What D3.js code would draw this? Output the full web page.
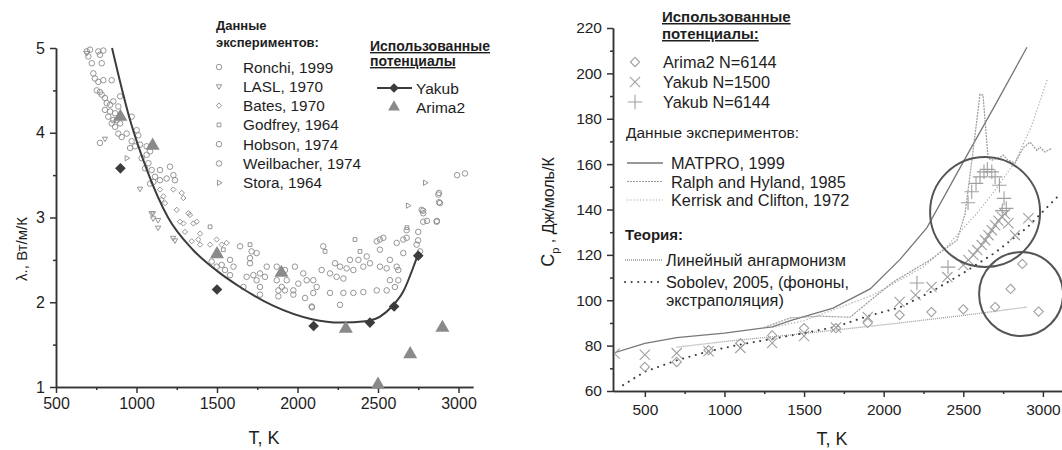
<!DOCTYPE html>
<html>
<head>
<meta charset="utf-8">
<script src="https://cdn.jsdelivr.net/npm/d3@7"></script>
<style>
body { margin: 0; background: #fff; }
svg { font-family: "Liberation Sans", Arial, sans-serif; }
</style>
</head>
<body>
<svg id="chart" width="1062" height="450"></svg>
<script>
// ---- left panel: thermal conductivity, [T, lambda] ----
const ronchi = [[691,4.96],[711,4.98],[763,4.96],[794,4.97],[701,4.90],[722,4.82],[773,4.92],[784,4.82],[732,4.70],[742,4.64],
  [763,4.60],[794,4.62],[846,4.62],[753,4.50],[773,4.48],[784,4.45],[804,4.41],[815,4.35],[836,4.33],[856,4.37],[804,4.27],
  [836,4.25],[867,4.23],[887,4.31],[898,4.43],[825,4.19],[856,4.15],[877,4.15],[846,4.11],[867,4.07],[898,4.11],[970,4.19],
  [887,3.99],[908,3.95],[939,3.99],[1001,4.03],[1011,3.97],[970,3.90],[991,3.84],[960,3.82],[1022,3.86],[1063,3.84],[1084,3.78],
  [1063,3.74],[1032,3.70],[1074,3.64],[1053,3.58],[1094,3.56],[1146,3.56],[1208,3.60],[1115,3.48],[1146,3.44],[1187,3.46],
  [1229,3.50],[1239,3.44],[1084,3.40],[1105,3.42],[773,3.88],
  [2678,2.85],[2678,2.76],[2750,2.83],[2781,2.95],[2864,2.95],[2781,3.05],[2771,3.09],[2885,3.17],[2875,3.27],[2740,2.68],
  [2761,2.60],[2991,3.50],[3040,3.52],[2879,3.29],[2879,3.18],[2780,3.08],[2804,2.96],[2866,2.96],[2749,2.73]];
const lasl = [[804,3.93],[1022,3.34],[1094,3.05],[1103,3.05],[1134,2.88],[1227,2.76],[1103,2.99],[1134,2.97],[1239,2.73],[691,4.94]];
const bates = [[1146,3.33],[1167,3.25],[1177,3.17],[1156,3.21],[1229,3.33],[1281,3.29],[1291,3.23],[1250,3.09],[1322,3.05],
  [1332,3.03],[1270,2.95],[1291,2.93],[1353,2.93],[1374,2.95],[1301,2.83],[1395,2.81],[1343,2.72],[1384,2.74],[1395,2.68],
  [1457,2.68],[1498,2.74],[1529,2.68],[1560,2.70]];
const godfrey = [[1457,2.89],[1539,2.62],[1705,2.68],[2171,2.60],[2388,2.60],[2357,2.74],[2680,2.88]];
const hobson = [[1581,2.50],[1602,2.42],[1467,2.48],[1498,2.42],[1529,2.44],[1550,2.38],[1643,2.66],[1715,2.60],[1746,2.58],
  [1705,2.52],[1705,2.46],[1581,2.32],[1684,2.30],[1726,2.32],[1767,2.34],[1798,2.30],[1746,2.26],[1767,2.18],[1809,2.42],
  [1871,2.42],[1922,2.38],[1871,2.26],[1902,2.18],[1933,2.26],[1881,2.07],[1922,2.14],[1974,2.14],[1984,2.42],[1974,2.09],
  [1881,2.14],[1767,2.09],[1664,2.18]];
const weilbacher = [[2036,2.34],[2005,2.22],[2057,2.26],[2119,2.18],[2098,2.11],[2047,2.05],[2098,2.26],[2160,2.66],[2150,2.38],
  [2202,2.34],[2233,2.46],[2264,2.42],[2243,2.30],[2285,2.28],[2305,2.40],[2326,2.50],[2378,2.50],[2347,2.38],[2409,2.42],
  [2430,2.54],[2450,2.46],[2492,2.72],[2512,2.74],[2533,2.76],[2512,2.62],[2512,2.42],[2554,2.40],[2574,2.50],[2616,2.70],
  [2657,2.74],[2616,2.42],[2626,2.26],[2574,2.26],[2657,2.58],[2626,2.38],[2605,2.18],[2554,2.14],[2492,2.14],[2409,2.12],
  [2347,2.11],[2285,2.11],[2202,2.11],[2088,1.95],[2264,1.97],[2090,1.94]];
const stora = [[939,3.70],[2686,3.14],[2792,3.41]];
const expNames = ['Ronchi, 1999','LASL, 1970','Bates, 1970','Godfrey, 1964','Hobson, 1974','Weilbacher, 1974','Stora, 1964'];
const expShapes = ['circle','tri-down','diamond','square','circle','circle','tri-right'];

const yakubFit = [[848,5.0],[960,4.15],[1065,3.56],[1196,3.0],[1350,2.62],[1500,2.37],[1643,2.18],[1848,1.96],[2090,1.80],
  [2264,1.76],[2438,1.78],[2587,1.95],[2655,2.12],[2742,2.53],[2750,2.57]];
const yakubLambda = [[900,3.58],[1500,2.15],[2100,1.72],[2450,1.76],[2600,1.95],[2750,2.55]];
const arimaLambda = [[900,4.2],[1100,3.86],[1500,2.58],[1900,2.36],[2300,1.70],[2500,1.04],[2700,1.40],[2900,1.71]];

// ---- right panel: heat capacity, [T, Cp] ----
const arimaCp = [[500,70.6],[700,72.8],[900,78],[1100,81],[1300,84.5],[1500,87.7],[1700,87.7],[1900,90],[2100,93.5],
  [2300,94.8],[2500,96],[2700,97],[2797,105],[2871,116],[2973,95]];
const yakub1500Cp = [[310,76.5],[500,76],[700,76.7],[900,77.5],[1100,79],[1300,81.2],[1500,84.2],[1700,88],[1900,92.6],
  [2100,99.2],[2200,102.3],[2300,105.8],[2400,110.2],[2500,115.5],[2532,117.7],[2563,119.9],[2588,122.1],[2616,124.3],
  [2637,126.5],[2658,128.7],[2679,130.9],[2700,133.1],[2721,135],[2742,136.8],[2762,138],[2783,133.9],[2825,128.7],[2909,136.1]];
const yakub6144Cp = [[2209,107.6],[2404,114.6],[2530,143],[2553,147.8],[2580,151.5],[2605,154.4],[2630,156.6],[2651,157.7],
  [2679,156.6],[2700,154.4],[2727,150.7],[2756,144.9],[2745,139.5],[2770,140.5]];
const matpro = [[300,76.7],[500,81],[700,83.5],[1000,85.5],[1300,88.3],[1414,91],[1682,96.5],[1915,105],[2103,118],
  [2272,132],[2500,161],[2700,186],[2900,211.5]];
const ralphHyland = [[1250,88],[1412,92.2],[1600,93],[1789,92.5],[1900,99],[2059,108],[2291,117.7],[2461,126.5],[2511,138],
  [2560,165],[2605,190.8],[2624,190.4],[2656,162.6],[2681,161.8],[2731,163],[2750,164],[2780,161.8],[2825,160.4],
  [2875,167],[2919,169.7],[2963,166],[2982,167.5],[3013,165.3],[3057,167]];
const kerrisk = [[1300,88],[1500,91],[1682,95.7],[1933,102.3],[2247,114.6],[2400,124],[2586,138.4],[2700,148.5],
  [2825,161],[2930,177],[3026,197]];
const linearAnharm = [[700,79.3],[1000,81.8],[1412,84.7],[2103,90],[2500,93.3],[2900,97]];
const sobolev = [[363,62.6],[500,68.5],[700,73.5],[900,77.5],[1100,80.5],[1300,83],[1500,85.5],[1700,88.3],[1900,93],
  [2100,96.8],[2300,103.8],[2500,112],[2700,121],[2900,132],[3090,145.5]];
const highlights = [[2637,138.9,55],[2863,102.7,42]];

const svg = d3.select('#chart');
const font = '"Liberation Sans", Arial, sans-serif';
const ink = '#1e1e1e';

const lx = d3.scaleLinear().domain([500, 3090]).range([56, 473]);
const ly = d3.scaleLinear().domain([1, 5]).range([387, 48]);
const rx = d3.scaleLinear().domain([300, 3120]).range([613, 1062]);
const ry = d3.scaleLinear().domain([60, 220]).range([391, 28]);

function axes(x, y, xt, xm, yt, ym, fs, xpad) {
    const x0 = x.range()[0], y0 = y.range()[0];
    const style = (g) => {
        g.attr('font-family', font).attr('font-size', fs);
        g.selectAll('path,line').attr('stroke', '#333').attr('stroke-width', 1.5);
        g.selectAll('text').attr('fill', ink);
    };
    svg.append('g').attr('transform', `translate(0,${y0})`)
        .call(d3.axisBottom(x).tickValues(xm).tickSize(3).tickSizeOuter(0).tickFormat('')).call(style);
    svg.append('g').attr('transform', `translate(0,${y0})`)
        .call(d3.axisBottom(x).tickValues(xt).tickSize(6).tickSizeOuter(0).tickPadding(xpad).tickFormat(d3.format('d'))).call(style);
    svg.append('g').attr('transform', `translate(${x0},0)`)
        .call(d3.axisLeft(y).tickValues(ym).tickSize(3).tickSizeOuter(0).tickFormat('')).call(style);
    svg.append('g').attr('transform', `translate(${x0},0)`)
        .call(d3.axisLeft(y).tickValues(yt).tickSize(6).tickSizeOuter(0).tickPadding(5).tickFormat(d3.format('d'))).call(style);
}

axes(lx, ly, d3.range(500, 3001, 500), d3.range(750, 2751, 500), [1,2,3,4,5], [1.5,2.5,3.5,4.5], 16, 5);
axes(rx, ry, d3.range(500, 3001, 500), d3.range(750, 2751, 500), d3.range(60, 221, 20), d3.range(70, 211, 20), 15.5, 7);

function shapePath(shape) {
    if (shape === 'square') return d3.symbol(d3.symbolSquare2, 18)();
    if (shape === 'diamond') return d3.symbol(d3.symbolDiamond2, 18)();
    if (shape.startsWith('tri')) return d3.symbol(d3.symbolTriangle2, 20)();
    return d3.symbol(d3.symbolCircle, 24)();
}
function shapeRot(shape) {
    return shape === 'tri-down' ? ' rotate(180)' : shape === 'tri-right' ? ' rotate(90)' : '';
}

// clip for left panel
svg.append('clipPath').attr('id', 'clipL').append('rect').attr('x', 56).attr('y', 44).attr('width', 420).attr('height', 345);

const expData = [ronchi, lasl, bates, godfrey, hobson, weilbacher, stora];
const scat = svg.append('g').attr('clip-path', 'url(#clipL)');
expData.forEach((data, i) => {
    scat.selectAll(null).data(data).enter().append('path')
        .attr('d', shapePath(expShapes[i]))
        .attr('transform', d => `translate(${lx(d[0])},${ly(d[1])})${shapeRot(expShapes[i])}`)
        .attr('fill', 'none').attr('stroke', '#8a8a8a').attr('stroke-width', 0.9);
});

scat.append('path').datum(yakubFit)
    .attr('d', d3.line().x(d => lx(d[0])).y(d => ly(d[1])).curve(d3.curveMonotoneX))
    .attr('fill', 'none').attr('stroke', '#3c3c3c').attr('stroke-width', 2);
svg.selectAll('.yk').data(yakubLambda).enter().append('path').attr('class', 'yk')
    .attr('d', d3.symbol(d3.symbolDiamond2, 72)())
    .attr('transform', d => `translate(${lx(d[0])},${ly(d[1])})`)
    .attr('fill', '#3c3c3c');
svg.selectAll('.ar').data(arimaLambda).enter().append('path').attr('class', 'ar')
    .attr('d', d3.symbol(d3.symbolTriangle, 85)())
    .attr('transform', d => `translate(${lx(d[0])},${ly(d[1]) + 1})`)
    .attr('fill', '#8a8a8a');

// left labels
svg.append('text').attr('transform', 'translate(27,249) rotate(-90)').attr('text-anchor', 'middle')
    .attr('font-family', font).attr('font-size', 15).attr('fill', ink).text('λ., Вт/м/К');
svg.append('text').attr('x', 264).attr('y', 444).attr('text-anchor', 'middle')
    .attr('font-family', font).attr('font-size', 18).attr('fill', ink).text('T, K');

// left legend
const hdr = (x, y, t, size, under) => svg.append('text').attr('x', x).attr('y', y)
    .attr('font-family', font).attr('font-size', size).attr('font-weight', 'bold').attr('fill', ink)
    .attr('text-decoration', under ? 'underline' : null).text(t);
hdr(216, 30, 'Данные', 13);
hdr(216, 47, 'экспериментов:', 13);
expNames.forEach((name, i) => {
    const y = 67 + i * 19.3;
    svg.append('path').attr('d', shapePath(expShapes[i]))
        .attr('transform', `translate(219,${y})${shapeRot(expShapes[i])}`)
        .attr('fill', 'none').attr('stroke', '#8a8a8a').attr('stroke-width', 0.9);
    svg.append('text').attr('x', 243).attr('y', y + 5.5).attr('font-family', font).attr('font-size', 15.3)
        .attr('fill', ink).text(name);
});
hdr(370, 51, 'Использованные', 14, true);
hdr(370, 66, 'потенциалы', 14, true);
svg.append('line').attr('x1', 377).attr('x2', 412).attr('y1', 88).attr('y2', 88).attr('stroke', '#3c3c3c').attr('stroke-width', 2);
svg.append('path').attr('d', d3.symbol(d3.symbolDiamond2, 60)()).attr('transform', 'translate(394,88)').attr('fill', '#3c3c3c');
svg.append('text').attr('x', 416).attr('y', 93.5).attr('font-family', font).attr('font-size', 15.5).attr('fill', ink).text('Yakub');
svg.append('path').attr('d', d3.symbol(d3.symbolTriangle, 60)()).attr('transform', 'translate(394,107)').attr('fill', '#8a8a8a');
svg.append('text').attr('x', 416).attr('y', 112.5).attr('font-family', font).attr('font-size', 15.5).attr('fill', ink).text('Arima2');

// ---- right panel ----
svg.append('clipPath').attr('id', 'clipR').append('rect').attr('x', 614).attr('y', 20).attr('width', 450).attr('height', 371);
const plotR = svg.append('g').attr('clip-path', 'url(#clipR)');
const rLine = d3.line().x(d => rx(d[0])).y(d => ry(d[1]));
const curves = [
    { data: matpro, stroke: '#777', width: 1.3, dash: null },
    { data: ralphHyland, stroke: '#9a9a9a', width: 1.2, dash: '2,1' },
    { data: kerrisk, stroke: '#a8a8a8', width: 1.2, dash: '1.2,2' },
    { data: linearAnharm, stroke: '#999', width: 1.3, dash: '1,1' },
    { data: sobolev, stroke: '#3c3c3c', width: 2, dash: '0.1,6.5' }
];
curves.forEach(c => {
    plotR.append('path').datum(c.data).attr('d', rLine)
        .attr('fill', 'none').attr('stroke', c.stroke).attr('stroke-width', c.width)
        .attr('stroke-dasharray', c.dash).attr('stroke-linecap', c.dash === '0.1,6.5' ? 'round' : 'butt');
});

const markers = [
    { data: arimaCp, type: d3.symbolDiamond2, size: 55 },
    { data: yakub1500Cp, type: d3.symbolTimes, size: 70 },
    { data: yakub6144Cp, type: d3.symbolPlus, size: 70 }
];
markers.forEach(m => {
    plotR.selectAll(null).data(m.data).enter().append('path')
        .attr('d', d3.symbol(m.type, m.size)())
        .attr('transform', d => `translate(${rx(d[0])},${ry(d[1])})`)
        .attr('fill', 'none').attr('stroke', '#a0a0a0').attr('stroke-width', 1.1);
});

plotR.selectAll('.hl').data(highlights).enter().append('circle').attr('class', 'hl')
    .attr('cx', d => rx(d[0])).attr('cy', d => ry(d[1])).attr('r', d => d[2])
    .attr('fill', 'none').attr('stroke', '#555').attr('stroke-width', 2);

// right labels
const cpLabel = svg.append('text').attr('transform', 'translate(554,212) rotate(-90)').attr('text-anchor', 'middle')
    .attr('font-family', font).attr('font-size', 16).attr('fill', ink);
cpLabel.append('tspan').attr('font-size', 18).text('C');
cpLabel.append('tspan').attr('font-size', 11).attr('dy', 5).text('p');
cpLabel.append('tspan').attr('dy', -5).text(' , Дж/моль/К');
svg.append('text').attr('x', 832).attr('y', 445).attr('text-anchor', 'middle')
    .attr('font-family', font).attr('font-size', 18).attr('fill', ink).text('T, K');

// right legend
hdr(662, 22, 'Использованные', 15, true);
hdr(662, 39, 'потенциалы:', 15, true);
const potNames = ['Arima2 N=6144', 'Yakub N=1500', 'Yakub N=6144'];
markers.forEach((m, i) => {
    const y = 62 + i * 20;
    svg.append('path').attr('d', d3.symbol(m.type, m.size)()).attr('transform', `translate(635,${y})`)
        .attr('fill', 'none').attr('stroke', '#a0a0a0').attr('stroke-width', 1.1);
    svg.append('text').attr('x', 663).attr('y', y + 6).attr('font-family', font).attr('font-size', 16.3)
        .attr('fill', ink).text(potNames[i]);
});
svg.append('text').attr('x', 626).attr('y', 138).attr('font-family', font).attr('font-size', 15.5)
    .attr('fill', ink).text('Данные экспериментов:');
const lineNames = ['MATPRO, 1999', 'Ralph and Hyland, 1985', 'Kerrisk and Clifton, 1972'];
lineNames.forEach((name, i) => {
    const y = 163 + i * 18.5;
    const c = curves[i];
    svg.append('line').attr('x1', 627).attr('x2', 663).attr('y1', y).attr('y2', y)
        .attr('stroke', c.stroke).attr('stroke-width', c.width).attr('stroke-dasharray', c.dash);
    svg.append('text').attr('x', 671).attr('y', y + 6).attr('font-family', font).attr('font-size', 16.3)
        .attr('fill', ink).text(name);
});
hdr(625, 240, 'Теория:', 15);
[['Линейный ангармонизм', 260, curves[3]], ['Sobolev, 2005, (фононы,', 282, curves[4]]].forEach(([name, y, c]) => {
    svg.append('line').attr('x1', 625).attr('x2', 663).attr('y1', y).attr('y2', y)
        .attr('stroke', c.stroke).attr('stroke-width', c.width).attr('stroke-dasharray', c.dash)
        .attr('stroke-linecap', c.dash === '0.1,6.5' ? 'round' : 'butt');
    svg.append('text').attr('x', 666).attr('y', y + 6).attr('font-family', font).attr('font-size', 16.3)
        .attr('fill', ink).text(name);
});
svg.append('text').attr('x', 666).attr('y', 306).attr('font-family', font).attr('font-size', 16.3)
    .attr('fill', ink).text('экстраполяция)');
</script>
</body>
</html>
